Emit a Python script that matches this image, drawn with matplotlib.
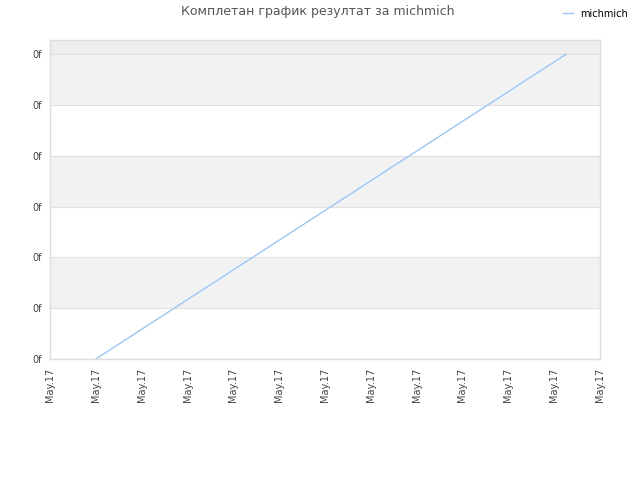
import matplotlib
matplotlib.use("Agg")
import matplotlib.pyplot as plt

# данни
title = "Комплетан график резултат за michmich"
series_name = "michmich"
x_vals = [1, 11.26]
y_vals = [0, 6]
x_ticks = list(range(13))
x_labels = ["May.17"] * 13
y_ticks = list(range(7))
y_labels = ["0f"] * 7

plt.rcParams['font.family'] = ['DejaVu Sans']

fig = plt.figure(figsize=(6.4, 4.8), dpi=100)
ax = fig.add_axes([50 / 640, 1 - 359 / 480, 550 / 640, 319 / 480])

ymax = 6.28
# bands
for i in range(0, 6):
    if i % 2 == 1:
        ax.axhspan(i, i + 1, color='#f2f2f2', zorder=0, lw=0)
ax.axhspan(6, ymax, color='#eeeeee', zorder=0, lw=0)
for t in y_ticks:
    ax.axhline(t, color='#e0e0e0', lw=0.8, zorder=1)

ax.plot(x_vals, y_vals, color='#99c8f5', lw=1, label=series_name, zorder=3)

ax.set_xlim(0, 12)
ax.set_ylim(0, ymax)
ax.set_xticks(x_ticks)
ax.set_xticklabels(x_labels, rotation=90, fontsize=7, color='#444444')
ax.set_yticks(y_ticks)
ax.set_yticklabels(y_labels, fontsize=7, color='#444444')
ax.tick_params(length=0, pad=6)
for s in ax.spines.values():
    s.set_color('#dddddd')
    s.set_linewidth(1)

fig.text(0.497, 0.975, title, ha='center', va='center', fontsize=9, color='#555555')
fig.legend(loc='upper right', bbox_to_anchor=(0.995, 1.0), frameon=False,
           fontsize=7, handlelength=1.0, handletextpad=0.8)

fig.savefig('out.png', dpi=100)
